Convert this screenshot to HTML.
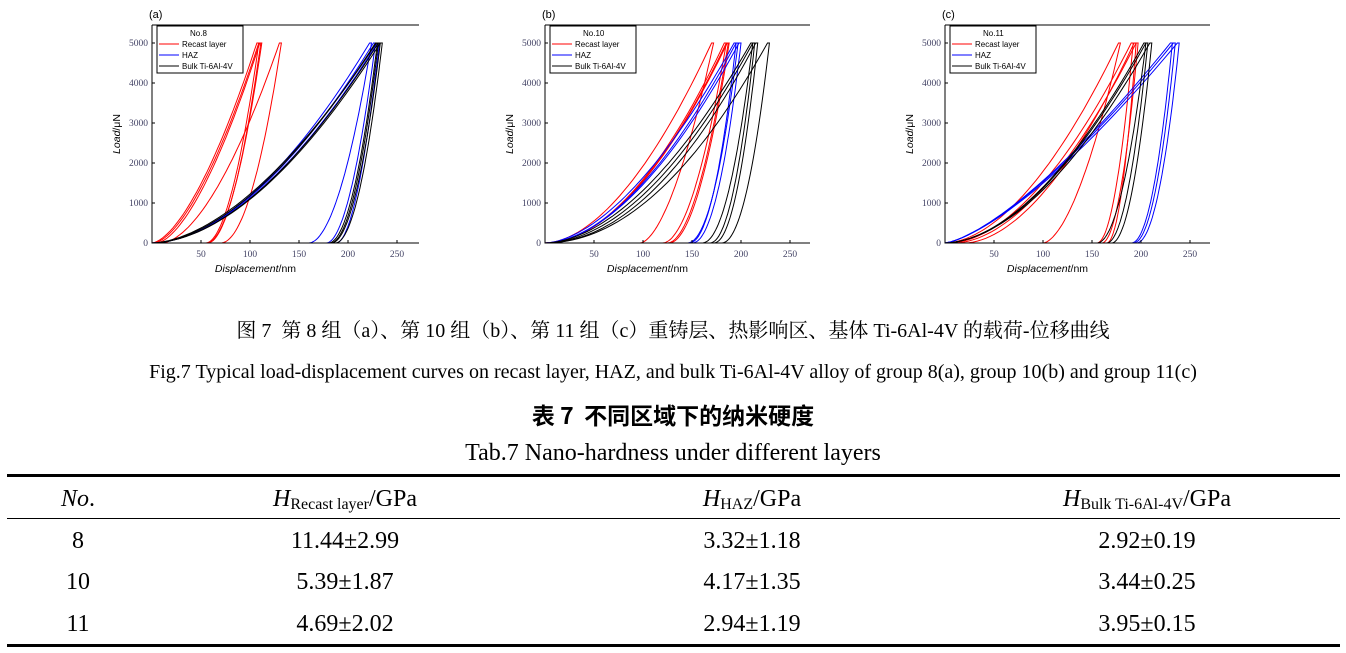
<!DOCTYPE html>
<html><head><meta charset="utf-8">
<style>
body{margin:0;background:#fff;width:1346px;height:653px;overflow:hidden;position:relative;font-family:"Liberation Serif","Noto Serif CJK SC",serif;}
.t{position:absolute;white-space:nowrap;color:#000;}
.c{left:0;width:1346px;text-align:center;}
.row{position:absolute;font-size:24px;line-height:28px;}
.col{position:absolute;text-align:center;white-space:nowrap;}
sub{font-size:16px;vertical-align:-3px;}
</style></head><body>
<svg id="s" width="1346" height="300" style="position:absolute;left:0;top:0"></svg>
<div class="t c" style="top:314px;font-size:20px;">图 7&nbsp; 第 8 组（a）、第 10 组（b）、第 11 组（c）重铸层、热影响区、基体 Ti-6Al-4V 的载荷-位移曲线</div>
<div class="t c" style="top:361px;font-size:20px;">Fig.7 Typical load-displacement curves on recast layer, HAZ, and bulk Ti-6Al-4V alloy of group 8(a), group 10(b) and group 11(c)</div>
<div class="t c" style="top:397px;font-size:23px;font-weight:bold;font-family:'Noto Sans CJK SC',sans-serif;">表 7&nbsp; 不同区域下的纳米硬度</div>
<div class="t c" style="top:440px;font-size:24px;">Tab.7 Nano-hardness under different layers</div>
<div style="position:absolute;left:7px;width:1333px;top:474px;height:3px;background:#000"></div>
<div style="position:absolute;left:7px;width:1333px;top:518px;height:1px;background:#000"></div>
<div style="position:absolute;left:7px;width:1333px;top:644px;height:3px;background:#000"></div>
<div class="row" style="top:485px;width:1346px;">
<div class="col" style="left:28px;width:100px;"><i>No</i>.</div>
<div class="col" style="left:195px;width:300px;"><i>H</i><sub>Recast layer</sub>/GPa</div>
<div class="col" style="left:602px;width:300px;"><i>H</i><sub>HAZ</sub>/GPa</div>
<div class="col" style="left:997px;width:300px;"><i>H</i><sub>Bulk Ti-6Al-4V</sub>/GPa</div>
</div>
<div class="row" style="top:527px;width:1346px;">
<div class="col" style="left:28px;width:100px;">8</div>
<div class="col" style="left:195px;width:300px;">11.44±2.99</div>
<div class="col" style="left:602px;width:300px;">3.32±1.18</div>
<div class="col" style="left:997px;width:300px;">2.92±0.19</div>
</div>
<div class="row" style="top:568px;width:1346px;">
<div class="col" style="left:28px;width:100px;">10</div>
<div class="col" style="left:195px;width:300px;">5.39±1.87</div>
<div class="col" style="left:602px;width:300px;">4.17±1.35</div>
<div class="col" style="left:997px;width:300px;">3.44±0.25</div>
</div>
<div class="row" style="top:610px;width:1346px;">
<div class="col" style="left:28px;width:100px;">11</div>
<div class="col" style="left:195px;width:300px;">4.69±2.02</div>
<div class="col" style="left:602px;width:300px;">2.94±1.19</div>
<div class="col" style="left:997px;width:300px;">3.95±0.15</div>
</div>
<script>
var s=document.getElementById('s'),h='';
function panel(x0,right,lab,no,curves){
 var y0=243,sx=0.98,sy=0.04;
 h+='<text x="'+(x0-3)+'" y="18" font-family="Liberation Sans" font-size="11">'+lab+'</text>';
 curves.forEach(function(c){
  var col=c[0],hs=c[1],hm=c[2],hf=c[3],m=c[4]||1.7,n=c[5]||2,d='';
  for(var i=0;i<=40;i++){var t=i/40,hh=hs+(hm-hs)*t,P=5000*Math.pow(t,m);d+=(i?'L':'M')+(x0+hh*sx).toFixed(1)+','+(y0-P*sy).toFixed(1);}
  d+='L'+(x0+(hm+2)*sx).toFixed(1)+','+(y0-5000*sy);
  for(var i=40;i>=0;i--){var t=i/40,hh=hf+(hm+2-hf)*t,P=5000*Math.pow(t,n);d+='L'+(x0+hh*sx).toFixed(1)+','+(y0-P*sy).toFixed(1);}
  h+='<path d="'+d+'" fill="none" stroke="'+col+'" stroke-width="1"/>';
 });
 h+='<path d="M'+x0+',25V243H'+right+'M'+x0+',25H'+right+'" fill="none" stroke="#000" stroke-width="1"/>';
 for(var v=0;v<=5000;v+=1000){var y=y0-v*sy;h+='<line x1="'+x0+'" x2="'+(x0+3)+'" y1="'+y+'" y2="'+y+'" stroke="#000"/><text x="'+(x0-4)+'" y="'+(y+3)+'" text-anchor="end" font-size="9.5" fill="#446">'+v+'</text>';}
 for(var v=50;v<=250;v+=50){var x=x0+v*sx;h+='<line x1="'+x+'" x2="'+x+'" y1="243" y2="240" stroke="#000"/><text x="'+x+'" y="257" text-anchor="middle" font-size="9.5" fill="#446">'+v+'</text>';}
 h+='<text x="'+(x0+(right-x0)/2-30)+'" y="272" text-anchor="middle" font-family="Liberation Sans" font-size="10.5"><tspan font-style="italic">Displacement</tspan>/nm</text>';
 h+='<text transform="translate('+(x0-32)+',134) rotate(-90)" text-anchor="middle" font-family="Liberation Sans" font-size="10.5"><tspan font-style="italic">Load</tspan>/μN</text>';
 var lx=x0+5;
 h+='<rect x="'+lx+'" y="26" width="86" height="47" fill="#fff" stroke="#000"/>';
 h+='<text x="'+(lx+33)+'" y="36" font-family="Liberation Sans" font-size="8">'+no+'</text>';
 [['red','Recast layer'],['blue','HAZ'],['black','Bulk Ti-6Al-4V']].forEach(function(e,i){var y=47+i*11;
  h+='<line x1="'+(lx+2)+'" x2="'+(lx+22)+'" y1="'+(y-3)+'" y2="'+(y-3)+'" stroke="'+e[0]+'"/><text x="'+(lx+25)+'" y="'+y+'" font-family="Liberation Sans" font-size="8">'+e[1]+'</text>';});
}
var R='red',B='blue',K='black';
panel(152,419,'(a)','No.8',[
 [R,0,107,55,1.6,1.9],[R,2,109,57,1.6,1.9],[R,5,110,56,1.6,1.9],[R,10,130,70,1.7,2.0],
 [B,0,222,160,1.8,1.9],[B,0,226,178,1.8,1.9],[B,0,230,188,1.8,1.9],
 [K,0,228,180,1.75,2.0],[K,0,231,183,1.8,2.0],[K,0,233,187,1.8,2.0],[K,0,229,182,1.7,2.0]]);
panel(545,810,'(b)','No.10',[
 [R,0,170,97,1.8,1.7],[R,0,183,120,1.9,1.9],[R,0,186,127,1.9,1.9],[R,0,185,125,1.9,1.9],
 [B,0,195,145,1.8,2.1],[B,0,198,150,1.8,2.1],[B,0,193,147,1.7,2.1],
 [K,0,210,160,1.8,2.1],[K,0,212,168,1.9,2.1],[K,0,215,172,2.0,2.1],[K,0,227,180,2.0,2.1]]);
panel(945,1210,'(c)','No.11',[
 [R,0,177,100,1.8,1.7],[R,5,190,155,1.8,2.0],[R,10,195,160,1.8,2.0],[R,20,193,165,1.8,2.0],
 [B,0,230,190,1.4,2.1],[B,0,233,192,1.4,2.1],[B,0,237,195,1.4,2.1],
 [K,0,203,155,1.8,2.0],[K,0,205,165,1.8,2.0],[K,0,209,170,1.8,2.0]]);
s.innerHTML=h;
</script>
</body></html>
